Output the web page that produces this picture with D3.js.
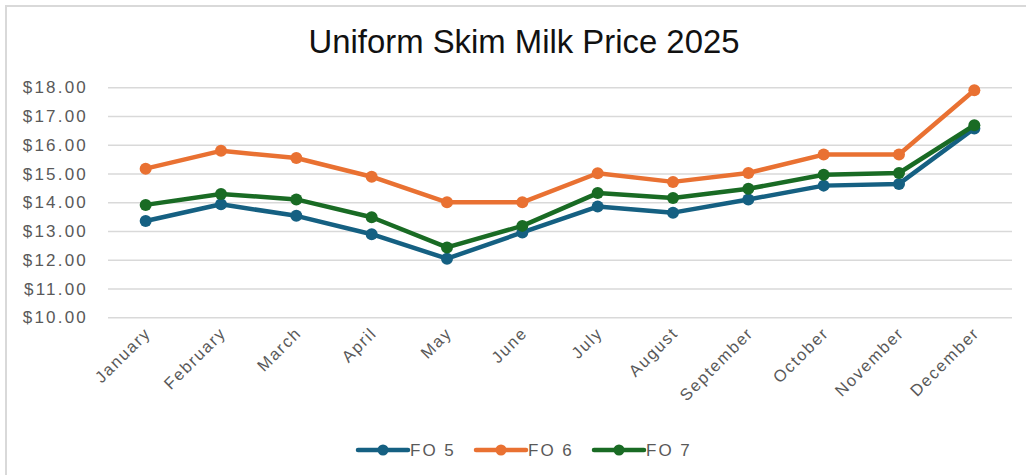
<!DOCTYPE html>
<html>
<head>
<meta charset="utf-8">
<script src="https://cdn.jsdelivr.net/npm/d3@7"></script>
<style>
  body { margin: 0; background: #fff; }
  svg text { font-family: "Liberation Sans", Arial, sans-serif; }
</style>
</head>
<body>
<svg id="chart" width="1026" height="475"></svg>
<script>
const months = ['January', 'February', 'March', 'April', 'May', 'June',
  'July', 'August', 'September', 'October', 'November', 'December'];
const fo5 = [13.35, 13.93, 13.53, 12.89, 12.04, 12.95, 13.85, 13.64, 14.10, 14.58, 14.64, 16.57];
const fo6 = [15.17, 15.79, 15.54, 14.89, 14.00, 14.00, 15.01, 14.71, 15.02, 15.66, 15.66, 17.90];
const fo7 = [13.91, 14.29, 14.10, 13.48, 12.43, 13.18, 14.32, 14.15, 14.47, 14.96, 15.02, 16.68];
const yTicks = [10, 11, 12, 13, 14, 15, 16, 17, 18];
const seriesNames = ['FO 5', 'FO 6', 'FO 7'];

const series = [
  { name: seriesNames[0], values: fo5, color: '#156082' },
  { name: seriesNames[1], values: fo6, color: '#E97132' },
  { name: seriesNames[2], values: fo7, color: '#196B24' },
];

const svg = d3.select('#chart');

// chart frame (only top/left edges visible in the shot)
svg.append('path')
  .attr('d', 'M6,475 V6 H1026')
  .attr('fill', 'none')
  .attr('stroke', '#d9d9d9')
  .attr('stroke-width', 2);

const x = d3.scaleBand().domain(months).range([108, 1012]);
const y = d3.scaleLinear().domain([10, 18]).range([317.3, 87.3]);
const cx = m => x(m) + x.bandwidth() / 2;

const title = svg.append('text')
  .attr('x', 524)
  .attr('y', 53)
  .attr('text-anchor', 'middle')
  .attr('font-family', '"Open Sans", "Liberation Sans", sans-serif')
  .attr('font-size', 28)
  .attr('fill', '#111')
  .text('Uniform Skim Milk Price 2025');
// fit title width to ~431px
const tw = title.node().getComputedTextLength();
title.attr('font-size', 28 * 431 / tw);

// gridlines + y labels
const yAxis = svg.append('g')
  .attr('transform', 'translate(108,0)')
  .call(d3.axisLeft(y).tickValues(yTicks)
    .tickSize(-904)
    .tickPadding(20)
    .tickFormat(d => '$' + d3.format('.2f')(d)));
yAxis.select('.domain').remove();
yAxis.selectAll('line').attr('stroke', '#d9d9d9').attr('stroke-width', 1.5);
yAxis.selectAll('text')
  .attr('fill', '#595959')
  .attr('font-size', 17)
  .attr('letter-spacing', 2.2)
  .attr('font-family', '"Liberation Sans", Arial, sans-serif');

// month labels
svg.append('g')
  .selectAll('text')
  .data(months)
  .join('text')
  .attr('transform', d => `translate(${cx(d) + 2},${330}) rotate(-45)`)
  .attr('text-anchor', 'end')
  .attr('dy', '0.35em')
  .attr('font-size', 16.5)
  .attr('letter-spacing', 1.7)
  .attr('fill', '#595959')
  .text(d => d);

const line = d3.line()
  .x((d, i) => cx(months[i]))
  .y(d => y(d));

series.forEach(s => {
  const g = svg.append('g');
  g.append('path')
    .datum(s.values)
    .attr('d', line)
    .attr('fill', 'none')
    .attr('stroke', s.color)
    .attr('stroke-width', 4.5)
    .attr('stroke-linejoin', 'round');
  g.selectAll('circle')
    .data(s.values)
    .join('circle')
    .attr('cx', (d, i) => cx(months[i]))
    .attr('cy', d => y(d))
    .attr('r', 6)
    .attr('fill', s.color);
});

// legend
const legend = svg.append('g').attr('transform', 'translate(358,450)');
series.forEach((s, i) => {
  const g = legend.append('g').attr('transform', `translate(${i * 118},0)`);
  g.append('line')
    .attr('x1', 0).attr('x2', 50)
    .attr('stroke', s.color)
    .attr('stroke-width', 4.5)
    .attr('stroke-linecap', 'round');
  g.append('circle').attr('cx', 25).attr('r', 5.5).attr('fill', s.color);
  g.append('text')
    .attr('x', 52)
    .attr('dy', '0.35em')
    .attr('font-size', 17)
    .attr('letter-spacing', 2)
    .attr('fill', '#595959')
    .text(s.name);
});
</script>
</body>
</html>
